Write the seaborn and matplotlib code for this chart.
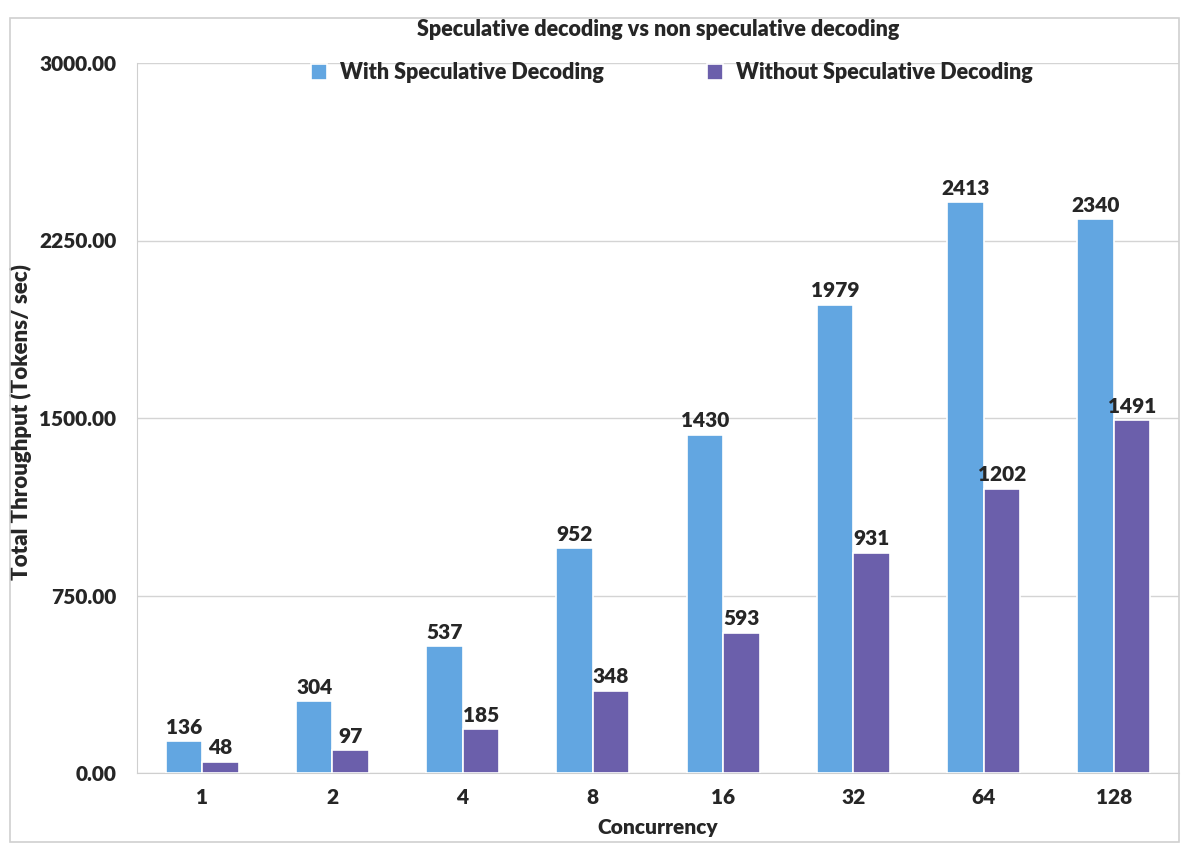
import pandas as pd
import numpy as np
import matplotlib
matplotlib.use("Agg")
import matplotlib.pyplot as plt
from matplotlib.patches import Rectangle
from matplotlib.ticker import FixedLocator, FuncFormatter
import seaborn as sns

# Chart data
concurrency = ["1", "2", "4", "8", "16", "32", "64", "128"]
with_spec = [136, 304, 537, 952, 1430, 1979, 2413, 2340]
without_spec = [48, 97, 185, 348, 593, 931, 1202, 1491]
series_names = ["With Speculative Decoding", "Without Speculative Decoding"]
y_ticks = [0, 750, 1500, 2250, 3000]

colors = ["#62A6E1", "#6B5FAB"]
WEIGHT = "heavy"

df = pd.DataFrame({
    "Concurrency": concurrency * 2,
    "Throughput": with_spec + without_spec,
    "Series": [series_names[0]] * len(concurrency) + [series_names[1]] * len(concurrency),
})

sns.set_style("white")
plt.rcParams["font.family"] = ["Lato", "DejaVu Sans"]
plt.rcParams["font.weight"] = WEIGHT

fig = plt.figure(figsize=(12, 8.61), dpi=100)
ax = fig.add_axes([137 / 1200, 1 - 773 / 861, (1179 - 137) / 1200, 710 / 861])

sns.barplot(data=df, x="Concurrency", y="Throughput", hue="Series",
            order=concurrency, hue_order=series_names, palette=colors,
            saturation=1, width=0.56, edgecolor="white", linewidth=1.2,
            ax=ax, zorder=3)

# Value labels on top of bars
for container in ax.containers:
    ax.bar_label(container, fmt="%d", padding=3, fontsize=15, fontweight=WEIGHT)

ax.set_ylim(0, 3000)
ax.set_xlim(-0.5, len(concurrency) - 0.5)
ax.yaxis.set_major_locator(FixedLocator(y_ticks))
ax.yaxis.set_major_formatter(FuncFormatter(lambda v, p: f"{v:.2f}"))
ax.grid(axis="y", color="#d4d4d4", linewidth=1.0, zorder=0)
ax.set_axisbelow(True)

for side in ["top", "right"]:
    ax.spines[side].set_visible(False)
ax.spines["left"].set_color("#cfcfcf")
ax.spines["bottom"].set_color("#cfcfcf")

ax.tick_params(axis="y", length=0, pad=15, labelsize=15)
ax.tick_params(axis="x", which="major", length=0, pad=11, labelsize=15)
ax.xaxis.set_minor_locator(FixedLocator(np.arange(0.5, len(concurrency) - 1, 1.0)))
ax.tick_params(axis="x", which="minor", length=4, color="#cfcfcf", direction="out")
for lbl in ax.get_xticklabels() + ax.get_yticklabels():
    lbl.set_fontweight(WEIGHT)

ax.set_xlabel("Concurrency", fontsize=15, fontweight=WEIGHT, labelpad=8)
ax.set_ylabel("Total Throughput (Tokens/ sec)", fontsize=16, fontweight=WEIGHT,
              va="center")
ax.yaxis.set_label_coords((21 - 137) / 1042, (773 - 422) / 710)

fig.text(658 / 1200, 1 - 29 / 861, "Speculative decoding vs non speculative decoding",
         ha="center", va="center", fontsize=15.5, fontweight=WEIGHT)

ax.legend(loc="center", bbox_to_anchor=(0.513, 0.986), ncol=2, frameon=False,
          handlelength=0.75, handleheight=0.75, handletextpad=0.6,
          columnspacing=4.8, prop={"weight": WEIGHT, "size": 15.5})

# Outer chart border
fig.patches.append(Rectangle((10 / 1200, 1 - 842 / 861), 1169 / 1200, 824 / 861,
                             transform=fig.transFigure, fill=False,
                             edgecolor="#d0d0d0", linewidth=1.2))

fig.savefig("out.png", dpi=100)
